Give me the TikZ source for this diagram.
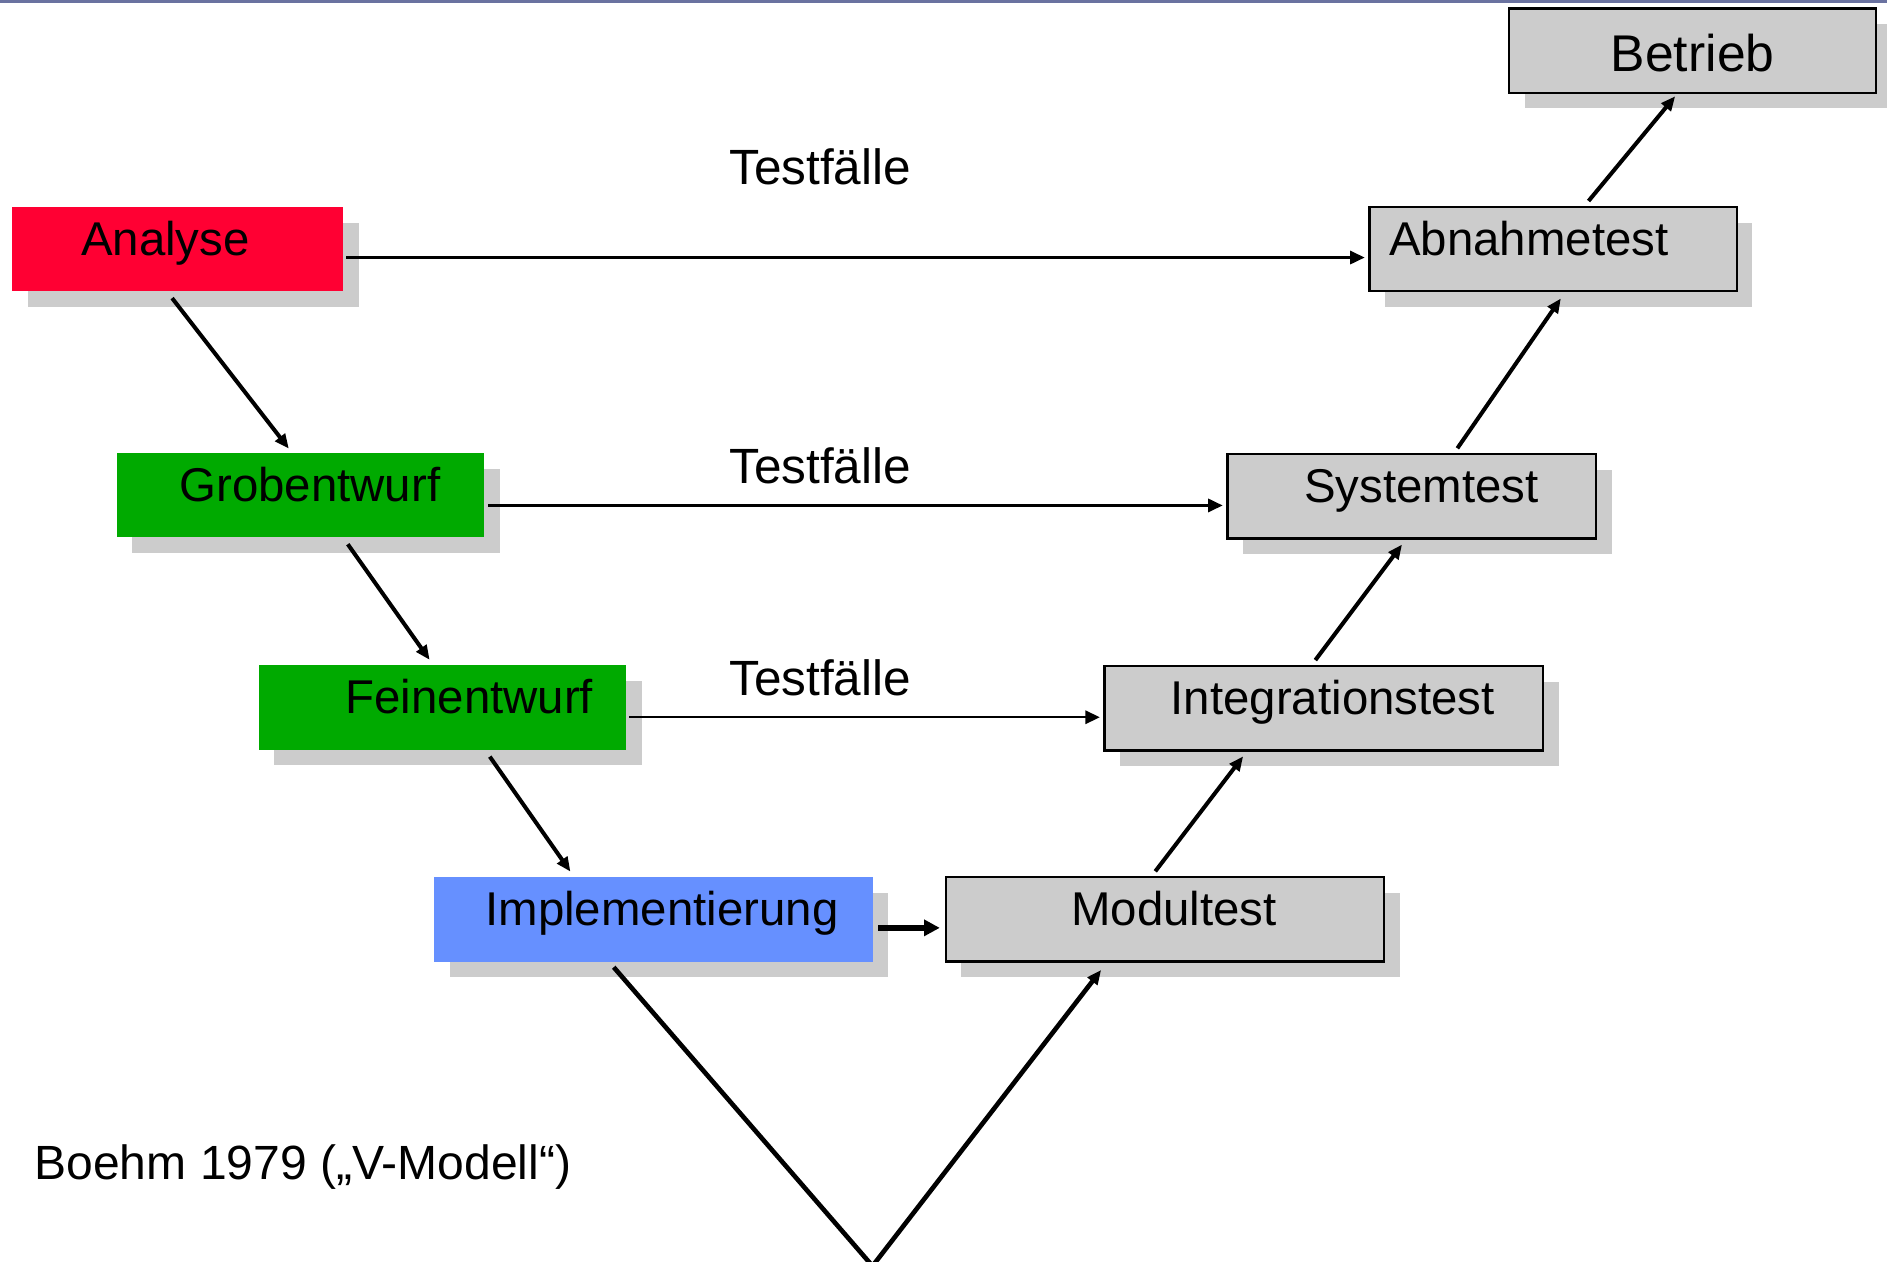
\documentclass[tikz,border=0pt]{standalone}
\usepackage{fontspec}
\setmainfont{Liberation Sans}
\usetikzlibrary{arrows.meta,shadows}
\definecolor{analysered}{RGB}{255,0,51}
\definecolor{entwurfgreen}{RGB}{0,170,0}
\definecolor{implblue}{RGB}{102,144,255}
\definecolor{boxgray}{RGB}{204,204,204}
\definecolor{shadowgray}{RGB}{204,204,204}
\definecolor{toprule}{RGB}{106,114,160}
\begin{document}
\begin{tikzpicture}
[x=0.01cm,y=-0.01cm,
  boxdecorate/.style={shape=rectangle,inner xsep=0pt,inner ysep=0pt,%
    minimum height=0.7cm,text height=0.4cm,text depth=0.3cm,%
    font=\fontsize{11.2pt}{13pt}\selectfont,%
    general shadow={fill=shadowgray,shadow xshift=0.13cm,shadow yshift=-0.13cm}},%
  phasedecorate/.style={boxdecorate},%
  testdecorate/.style={boxdecorate,fill=boxgray,draw,line width=0.55pt},%
  linedecorate/.style={-{Triangle[length=0.12cm,width=0.1cm]},line width=0.95pt},%
  testlinedecorate/.style={-{Triangle[length=0.12cm,width=0.11cm]},line width=0.55pt},%
  labeldecorate/.style={inner sep=0pt,anchor=base,font=\fontsize{11.7pt}{13pt}\selectfont}]
\useasboundingbox (0,0) rectangle (1568,1048);
\fill[toprule] (0,0) rectangle (1568,2.5);
%% phases (left branch)
\foreach \nodename/\x/\y/\w/\col/\dx/\txt in {%
    analyse/147.5/207/2.75/analysered/-0.2/Analyse,
    grob/249.5/411.5/3.05/entwurfgreen/0.16/Grobentwurf,
    fein/367.5/588/3.05/entwurfgreen/0.45/Feinentwurf,
    impl/543/764/3.64/implblue/0.14/Implementierung} {
  \node (\nodename) at (\x,\y) [phasedecorate,fill=\col,minimum width=\w cm]
    {\hspace*{\dx cm}\txt};
}
%% tests (right branch)
\foreach \nodename/\x/\y/\w/\dx/\txt in {%
    modul/968/764/3.64/0.15/Modultest,
    integ/1100/588.5/3.64/0.15/Integrationstest,
    system/1173/412.5/3.06/0.16/Systemtest,
    abnahme/1290.5/207/3.05/-0.4/Abnahmetest} {
  \node (\nodename) at (\x,\y) [testdecorate,minimum width=\w cm]
    {\hspace*{\dx cm}\txt};
}
\node (betrieb) at (1406.5,42) [testdecorate,minimum width=3.05cm,%
  font=\fontsize{12.2pt}{14pt}\selectfont,text height=0.52cm,text depth=0.18cm] {Betrieb};
%% labels
\node (tf1) at (681.5,153) [labeldecorate] {Testfälle};
\node (tf2) at (681.5,402) [labeldecorate] {Testfälle};
\node (tf3) at (681.5,578) [labeldecorate] {Testfälle};
\node (boehm) at (28,980) [labeldecorate,anchor=base west,font=\fontsize{11.35pt}{13pt}\selectfont]
  {Boehm 1979 („V-Modell“)};
%% arrows along the V
\foreach \startnode/\sa/\sx/\sy/\endnode/\ea/\ex/\ey in {%
    analyse/south/-4.5/5/grob/north/-9.5/-3,
    grob/south/39.5/5/fein/north/-10.5/-4,
    fein/south/39.5/5/impl/north/-69/-4,
    modul/north/-8/-4/integ/south/-67/4,
    integ/north/-7/-4/system/south/-8/4,
    system/north/38/-4/abnahme/south/6.5/5,
    abnahme/north/29.5/-4/betrieb/south/-14.5/2} {
  \draw[linedecorate] ([shift={(\sx,\sy)}]\startnode.\sa) -- ([shift={(\ex,\ey)}]\endnode.\ea);
}
%% test case arrows
\foreach \startnode/\sx/\sy/\endnode/\ex/\ey in {%
    analyse/2/7/abnahme/-3/7,
    grob/3/8.5/system/-3/7.5,
    fein/2/8/integ/-3/7.5} {
  \draw[testlinedecorate] ([shift={(\sx,\sy)}]\startnode.east) -- ([shift={(\ex,\ey)}]\endnode.west);
}
\draw[-{Triangle[length=0.13cm,width=0.13cm]},line width=1.3pt]
  ([shift={(4,7)}]impl.east) -- ([shift={(-4,7)}]modul.west);
%% bottom of the V
\coordinate (vtip) at (725,1052);
\draw[linedecorate,line width=1.1pt] ([shift={(-33,4)}]impl.south) -- (vtip) -- ([shift={(-53,6)}]modul.south);
\end{tikzpicture}
\end{document}
